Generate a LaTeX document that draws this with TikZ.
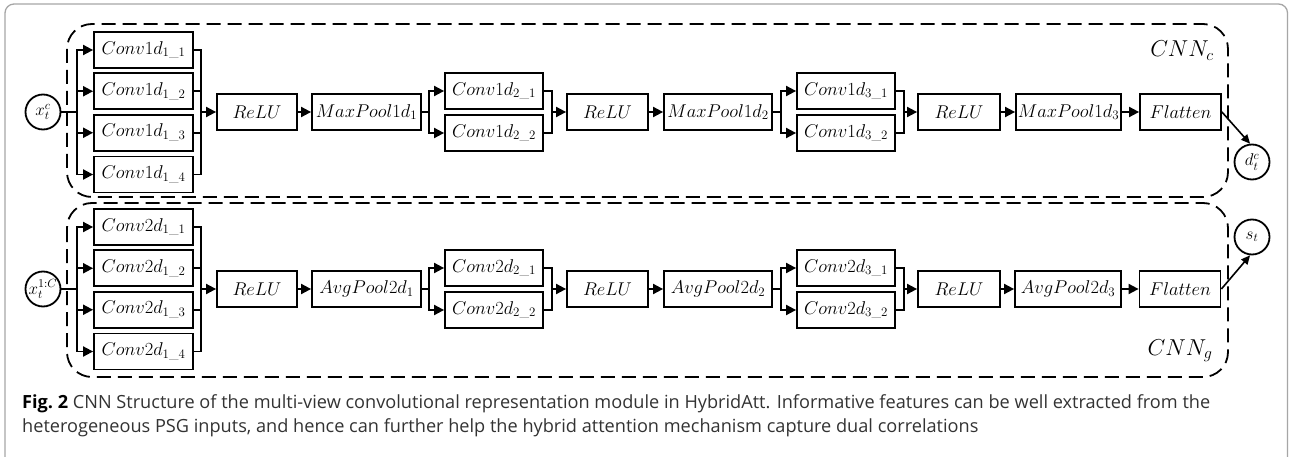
\documentclass[tikz,border=0pt]{standalone}
\usepackage{fix-cm}
\usepackage{amsmath}
\usepackage{fontspec}
\newfontfamily\capfont{Open Sans}
\usetikzlibrary{arrows.meta}
\begin{document}
\begin{tikzpicture}[x=1pt,y=-1pt,
  blk/.style={draw, line width=1.8pt, minimum height=36pt, inner sep=0pt, font=\fontsize{18.5}{20}\selectfont},
  io/.style={draw, circle, line width=1.8pt, minimum size=35pt, inner sep=0pt, font=\fontsize{17}{18}\selectfont},
  wire/.style={line width=1.8pt},
  arr/.style={line width=1.8pt, -{Triangle[length=10pt,width=10pt]}},
  darr/.style={line width=1.6pt, -{Triangle[length=9pt,width=8pt]}},
  group/.style={draw, line width=1.8pt, dash pattern=on 14pt off 7pt, rounded corners=25pt},
  lbl/.style={inner sep=0pt, font=\fontsize{23}{24}\selectfont},
  captxt/.style={anchor=base west, inner sep=0pt, text=black!80, font=\capfont\fontsize{18.15}{20}\selectfont}
]
\useasboundingbox (0,0) rectangle (1289,457);
\clip (0,0) rectangle (1289,457);
\fill[white] (0,0) rectangle (1289,457);
\draw[gray!70, line width=1.3pt, rounded corners=9pt] (5,4) rectangle (1287.5,470);

% group frames
\draw[group] (67,24) rectangle (1228,197);
\draw[group] (67,203) rectangle (1228,377);
\node[lbl, anchor=base] (cnnc) at (1182,57) {$CNN_c$};
\node[lbl, anchor=base] (cnng) at (1180,355) {$CNN_g$};

% ---------- row 1 ----------
\node[io] (x1) at (43,112) {$x_t^c$};
\node[blk, minimum width=99pt] (a1) at (143.5,50) {$Conv1d_{1\_1}$};
\node[blk, minimum width=99pt] (a2) at (143.5,91.25) {$Conv1d_{1\_2}$};
\node[blk, minimum width=99pt] (a3) at (143.5,132.75) {$Conv1d_{1\_3}$};
\node[blk, minimum width=99pt] (a4) at (143.5,174.5) {$Conv1d_{1\_4}$};
\node[blk, minimum width=80pt] (r11) at (257,112) {$ReLU$};
\node[blk, minimum width=109pt] (p11) at (366.5,112) {$MaxPool1d_1$};
\node[blk, minimum width=98pt] (b1) at (494,91) {$Conv1d_{2\_1}$};
\node[blk, minimum width=98pt] (b2) at (494,133) {$Conv1d_{2\_2}$};
\node[blk, minimum width=81pt] (r12) at (607.5,112) {$ReLU$};
\node[blk, minimum width=108pt] (p12) at (718,112) {$MaxPool1d_2$};
\node[blk, minimum width=98pt] (c1) at (846,91) {$Conv1d_{3\_1}$};
\node[blk, minimum width=98pt] (c2) at (846,133) {$Conv1d_{3\_2}$};
\node[blk, minimum width=82pt] (r13) at (959,112) {$ReLU$};
\node[blk, minimum width=105pt] (p13) at (1068.5,112) {$MaxPool1d_3$};
\node[blk, minimum width=81pt] (f1) at (1180.5,112) {$Flatten$};
\node[io] (d1) at (1252,162) {$d_t^c$};

\coordinate (s1) at (77,112);
\coordinate (m1) at (201,112);
\coordinate (s2) at (429,112);
\coordinate (m2) at (552,112);
\coordinate (s3) at (781,112);
\coordinate (m3) at (904,112);

\draw[wire] (x1) -- (s1);
\foreach \n in {a1,a2,a3,a4}{\draw[arr] (s1) |- (\n.west); \draw[wire] (\n.east) -| (m1);}
\draw[arr] (m1) -- (r11);
\draw[arr] (r11) -- (p11);
\draw[wire] (p11) -- (s2);
\foreach \n in {b1,b2}{\draw[arr] (s2) |- (\n.west); \draw[wire] (\n.east) -| (m2);}
\draw[arr] (m2) -- (r12);
\draw[arr] (r12) -- (p12);
\draw[wire] (p12) -- (s3);
\foreach \n in {c1,c2}{\draw[arr] (s3) |- (\n.west); \draw[wire] (\n.east) -| (m3);}
\draw[arr] (m3) -- (r13);
\draw[arr] (r13) -- (p13);
\draw[arr] (p13) -- (f1);
\draw[darr] (f1.east) -- (d1.96);

% ---------- row 2 ----------
\node[io] (x2) at (43,289) {$x_t^{1:C}$};
\node[blk, minimum width=99pt] (e1) at (143.5,227) {$Conv2d_{1\_1}$};
\node[blk, minimum width=99pt] (e2) at (143.5,268.25) {$Conv2d_{1\_2}$};
\node[blk, minimum width=99pt] (e3) at (143.5,309.75) {$Conv2d_{1\_3}$};
\node[blk, minimum width=99pt] (e4) at (143.5,351.5) {$Conv2d_{1\_4}$};
\node[blk, minimum width=80pt] (r21) at (257,289) {$ReLU$};
\node[blk, minimum width=109pt] (p21) at (366.5,289) {$AvgPool2d_1$};
\node[blk, minimum width=98pt] (g1) at (494,268) {$Conv2d_{2\_1}$};
\node[blk, minimum width=98pt] (g2) at (494,310) {$Conv2d_{2\_2}$};
\node[blk, minimum width=81pt] (r22) at (607.5,289) {$ReLU$};
\node[blk, minimum width=108pt] (p22) at (718,289) {$AvgPool2d_2$};
\node[blk, minimum width=98pt] (h1) at (846,268) {$Conv2d_{3\_1}$};
\node[blk, minimum width=98pt] (h2) at (846,310) {$Conv2d_{3\_2}$};
\node[blk, minimum width=82pt] (r23) at (959,289) {$ReLU$};
\node[blk, minimum width=106pt] (p23) at (1068,289) {$AvgPool2d_3$};
\node[blk, minimum width=81pt] (f2) at (1180,289) {$Flatten$};
\node[io] (o2) at (1252,237) {$s_t$};

\coordinate (t1) at (77,289);
\coordinate (n1) at (201,289);
\coordinate (t2) at (429,289);
\coordinate (n2) at (552,289);
\coordinate (t3) at (781,289);
\coordinate (n3) at (904,289);

\draw[wire] (x2) -- (t1);
\foreach \n in {e1,e2,e3,e4}{\draw[arr] (t1) |- (\n.west); \draw[wire] (\n.east) -| (n1);}
\draw[arr] (n1) -- (r21);
\draw[arr] (r21) -- (p21);
\draw[wire] (p21) -- (t2);
\foreach \n in {g1,g2}{\draw[arr] (t2) |- (\n.west); \draw[wire] (\n.east) -| (n2);}
\draw[arr] (n2) -- (r22);
\draw[arr] (r22) -- (p22);
\draw[wire] (p22) -- (t3);
\foreach \n in {h1,h2}{\draw[arr] (t3) |- (\n.west); \draw[wire] (\n.east) -| (n3);}
\draw[arr] (n3) -- (r23);
\draw[arr] (r23) -- (p23);
\draw[arr] (p23) -- (f2);
\draw[darr] (f2.east) -- (o2.264);

% ---------- caption ----------
\node[captxt] (cap1) at (22,408)
  {\textbf{\color{black}Fig.~2} CNN Structure of the multi-view convolutional representation module in HybridAtt. Informative features can be well extracted from the};
\node[captxt] (cap2) at (22,432)
  {heterogeneous PSG inputs, and hence can further help the hybrid attention mechanism capture dual correlations};
\end{tikzpicture}
\end{document}
